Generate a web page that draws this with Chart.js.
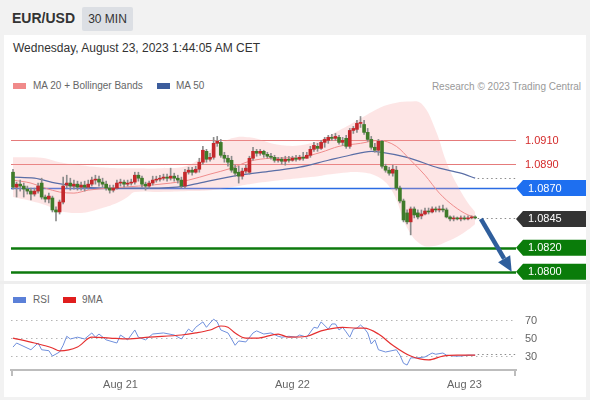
<!DOCTYPE html>
<html><head><meta charset="utf-8">
<script src="https://cdn.jsdelivr.net/npm/chart.js@4.4.0/dist/chart.umd.min.js"></script>
<style>
body{margin:0;width:590px;height:400px;background:#f2f2f2;font-family:"Liberation Sans",Arial,sans-serif;position:relative;overflow:hidden}
#sym{position:absolute;left:12px;top:10px;font-weight:bold;font-size:14px;color:#333}
#tf{position:absolute;left:82px;top:7px;width:51px;height:24px;background:#dcdfe4;border-radius:2px;font-size:12px;color:#333;line-height:24px;text-align:center}
#panel{position:absolute;left:4px;top:35px;width:582px;height:362px;background:#fff}
#sep{position:absolute;left:0;top:281px;width:590px;height:3px;background:#eeeeee}
#date{position:absolute;left:13px;top:41px;font-size:12px;color:#333}
.leg{position:absolute;font-size:10px;color:#666;white-space:nowrap}
.sw{position:absolute;width:13px;height:6px}
#copy{position:absolute;right:9px;top:81px;font-size:10px;color:#999}
canvas{position:absolute;left:0}
</style></head>
<body>
<div id="panel"></div>
<div id="sep"></div>
<div id="sym">EUR/USD</div>
<div id="tf">30 MIN</div>
<div id="date">Wednesday, August 23, 2023 1:44:05 AM CET</div>
<div class="sw" style="left:13px;top:83px;background:#f08a8a"></div>
<div class="leg" style="left:33px;top:80px">MA 20 + Bollinger Bands</div>
<div class="sw" style="left:157px;top:83px;background:#3c5d9c"></div>
<div class="leg" style="left:176px;top:80px">MA 50</div>
<div id="copy">Research © 2023 Trading Central</div>
<div class="sw" style="left:13px;top:297px;background:#5b80d8"></div>
<div class="leg" style="left:33px;top:294px">RSI</div>
<div class="sw" style="left:63px;top:297px;background:#e01e1e"></div>
<div class="leg" style="left:82px;top:294px">9MA</div>
<canvas id="main" width="590" height="222" style="top:60px"></canvas>
<canvas id="rsi" width="590" height="112" style="top:285px"></canvas>
<script>
// ---------- data ----------
const open = [1.08833,1.08708,1.08733,1.08717,1.08692,1.08675,1.08650,1.08675,1.08742,1.08625,
 1.08608,1.08617,1.08517,1.08500,1.08583,1.08725,1.08742,1.08717,1.08733,1.08708,
 1.08725,1.08708,1.08733,1.08767,1.08775,1.08750,1.08733,1.08700,1.08683,1.08700,
 1.08742,1.08750,1.08733,1.08742,1.08750,1.08808,1.08783,1.08733,1.08717,1.08742,
 1.08767,1.08775,1.08783,1.08792,1.08783,1.08800,1.08783,1.08767,1.08717,1.08833,
 1.08850,1.08833,1.08858,1.08917,1.09008,1.08942,1.08958,1.09075,1.09083,1.08975,
 1.08950,1.08933,1.08867,1.08833,1.08800,1.08842,1.08833,1.08950,1.09008,1.08992,
 1.09008,1.08983,1.08967,1.08958,1.08933,1.08942,1.08925,1.08942,1.08933,1.08950,
 1.08942,1.08958,1.08950,1.08975,1.09025,1.09050,1.09033,1.09083,1.09100,1.09125,
 1.09117,1.09125,1.09083,1.09117,1.09050,1.09183,1.09192,1.09242,1.09233,1.09167,
 1.09108,1.09042,1.09017,1.09092,1.08883,1.08850,1.08825,1.08850,1.08700,1.08592,
 1.08492,1.08417,1.08525,1.08492,1.08467,1.08483,1.08508,1.08500,1.08525,1.08517,
 1.08525,1.08517,1.08458,1.08442,1.08450,1.08442,1.08450,1.08442,1.08450,1.08458];
const close = [1.08708,1.08733,1.08717,1.08692,1.08675,1.08650,1.08675,1.08717,1.08625,1.08608,
 1.08633,1.08517,1.08500,1.08583,1.08717,1.08742,1.08717,1.08733,1.08708,1.08725,
 1.08708,1.08733,1.08767,1.08775,1.08750,1.08733,1.08700,1.08683,1.08700,1.08742,
 1.08750,1.08733,1.08742,1.08750,1.08808,1.08783,1.08733,1.08717,1.08742,1.08767,
 1.08775,1.08783,1.08792,1.08783,1.08800,1.08783,1.08767,1.08717,1.08833,1.08850,
 1.08833,1.08858,1.08917,1.09017,1.08942,1.08958,1.09075,1.09092,1.08975,1.08950,
 1.08917,1.08850,1.08825,1.08800,1.08842,1.08867,1.08950,1.09008,1.08992,1.09008,
 1.08983,1.08967,1.08958,1.08933,1.08942,1.08925,1.08942,1.08933,1.08950,1.08942,
 1.08958,1.08950,1.08975,1.09025,1.09058,1.09033,1.09083,1.09108,1.09125,1.09117,
 1.09133,1.09083,1.09100,1.09050,1.09183,1.09200,1.09242,1.09250,1.09167,1.09108,
 1.09042,1.09017,1.09092,1.08883,1.08850,1.08825,1.08858,1.08700,1.08592,1.08433,
 1.08417,1.08525,1.08475,1.08458,1.08483,1.08508,1.08500,1.08525,1.08517,1.08525,
 1.08517,1.08458,1.08442,1.08450,1.08442,1.08450,1.08442,1.08450,1.08458,1.08450];
const high = [1.08858,1.08750,1.08767,1.08742,1.08717,1.08700,1.08700,1.08742,1.08783,1.08642,
 1.08658,1.08633,1.08542,1.08600,1.08792,1.08808,1.08783,1.08767,1.08758,1.08750,
 1.08758,1.08767,1.08792,1.08808,1.08800,1.08783,1.08758,1.08725,1.08725,1.08767,
 1.08775,1.08767,1.08767,1.08775,1.08833,1.08833,1.08800,1.08750,1.08758,1.08800,
 1.08800,1.08808,1.08817,1.08817,1.08867,1.08825,1.08808,1.08792,1.08858,1.08875,
 1.08875,1.08883,1.08950,1.09050,1.09025,1.08992,1.09125,1.09133,1.09108,1.09000,
 1.08975,1.08967,1.08892,1.08883,1.08867,1.08892,1.08967,1.09042,1.09025,1.09025,
 1.09017,1.09000,1.08992,1.08975,1.08958,1.08958,1.08967,1.08967,1.08967,1.08975,
 1.08975,1.09000,1.09000,1.09050,1.09083,1.09075,1.09100,1.09125,1.09142,1.09150,
 1.09158,1.09142,1.09125,1.09142,1.09200,1.09217,1.09267,1.09300,1.09267,1.09200,
 1.09133,1.09075,1.09108,1.09100,1.08900,1.08875,1.08892,1.08883,1.08717,1.08608,
 1.08517,1.08542,1.08542,1.08517,1.08517,1.08533,1.08533,1.08542,1.08542,1.08550,
 1.08558,1.08533,1.08467,1.08467,1.08458,1.08467,1.08467,1.08467,1.08467,1.08467];
const low = [1.08692,1.08625,1.08675,1.08625,1.08650,1.08600,1.08633,1.08658,1.08608,1.08583,
 1.08575,1.08500,1.08425,1.08483,1.08567,1.08700,1.08683,1.08692,1.08683,1.08683,
 1.08675,1.08692,1.08717,1.08733,1.08717,1.08708,1.08683,1.08658,1.08667,1.08692,
 1.08717,1.08708,1.08717,1.08725,1.08733,1.08758,1.08708,1.08683,1.08700,1.08725,
 1.08750,1.08758,1.08767,1.08758,1.08767,1.08758,1.08742,1.08700,1.08700,1.08817,
 1.08808,1.08825,1.08833,1.08900,1.08917,1.08925,1.08942,1.09050,1.08958,1.08917,
 1.08883,1.08833,1.08800,1.08742,1.08775,1.08825,1.08817,1.08933,1.08967,1.08975,
 1.08958,1.08950,1.08942,1.08917,1.08917,1.08900,1.08892,1.08917,1.08925,1.08925,
 1.08933,1.08933,1.08950,1.08958,1.09008,1.09008,1.09025,1.09042,1.09075,1.09100,
 1.09100,1.09067,1.09058,1.09033,1.09033,1.09158,1.09167,1.09208,1.09150,1.09092,
 1.09025,1.09000,1.08975,1.08867,1.08833,1.08808,1.08800,1.08683,1.08575,1.08417,
 1.08400,1.08308,1.08450,1.08442,1.08442,1.08475,1.08483,1.08492,1.08500,1.08500,
 1.08500,1.08450,1.08425,1.08425,1.08433,1.08425,1.08433,1.08433,1.08442,1.08442];

// Bollinger bands (read at these bar positions)
const bbIdx   = [0,5,9,13,19,24,29,32,34,41,49,55,61,66,75,83,91,97,102,106,110,114,118,121,124,127,129];
const bbUpper = [1.08958,1.08958,1.08950,1.08917,1.08892,1.08875,1.08867,1.08867,1.08867,1.08867,1.08892,1.09017,1.09117,1.09125,1.09058,1.09075,1.09183,1.09283,1.09367,1.09408,1.09425,1.09408,1.09183,1.08917,1.08725,1.08575,1.08500];
const bbLower = [1.08625,1.08592,1.08558,1.08508,1.08492,1.08525,1.08575,1.08625,1.08667,1.08667,1.08675,1.08683,1.08708,1.08733,1.08767,1.08792,1.08825,1.08833,1.08792,1.08667,1.08367,1.08225,1.08217,1.08250,1.08292,1.08350,1.08400];
// MA 20
const ma20Idx = [0,5,9,13,17,21,27,35,44,49,55,61,66,72,80,86,91,97,102,107,111,115,119,123,127,129];
const ma20    = [1.08767,1.08742,1.08700,1.08667,1.08658,1.08683,1.08700,1.08717,1.08742,1.08767,1.08817,1.08867,1.08925,1.08950,1.08958,1.09000,1.09050,1.09075,1.09100,1.09050,1.08933,1.08808,1.08658,1.08550,1.08475,1.08458];
// MA 50
const ma50Idx = [0,6,12,20,27,38,48,52,63,72,80,88,94,100,103,110,119,125,129];
const ma50    = [1.08792,1.08783,1.08742,1.08708,1.08700,1.08700,1.08717,1.08742,1.08808,1.08842,1.08875,1.08933,1.08975,1.09008,1.09000,1.08958,1.08867,1.08825,1.08783];

// RSI and its 9-period MA
const rsiIdx = [0,1,5,7,8,10,11,13,14,15,16,18,20,22,23,24,26,29,30,32,34,35,37,39,42,45,47,49,50,51,53,54,55,56,57,58,60,61,62,63,65,67,68,70,72,74,75,77,79,80,82,84,85,86,88,89,90,91,92,93,94,95,96,97,98,99,100,101,102,104,107,108,109,110,111,113,115,117,118,120,121,123,125,127,129];
const rsi    = [41,45.5,38,45.5,38,37,31,35.5,43,53,50,52,50,56.7,52,55.5,49,45.5,54.4,49,60,52,49,55.5,56.7,54.4,50,61,57.8,63,69,63,67.8,72,69,60,56.7,50,43,47.8,46.7,56.7,59,55.5,56.7,53,52,53,52,54.4,52,63,62,69,61,66.7,66.7,60,63,57.8,52,61,62,65.5,62,56.7,44.4,49,38,35.5,38,32,23,21,29,29,30,34.4,33,34.4,32,31,31,32,32];
const rsiMaIdx = [0,6,11,13,18,22,27,32,38,47,51,55,58,60,62,65,68,74,77,82,86,92,96,98,102,106,111,116,120,124,129];
const rsiMa    = [51,45.5,40,36.7,41,52,51,50,52,54.4,56.7,60,64.4,63,56.7,51,51,55.5,52,53,59,63,62,62,55.5,43,31,26.7,31,32,32];

// axis / levels
const tickPos = [30, 78, 126];
const tickLabels = ['Aug 21', 'Aug 22', 'Aug 23'];
const levels = [1.0910, 1.0890, 1.0870, 1.0820, 1.0800];
const levelNames = ['1.0910', '1.0890', '1.0870', '1.0820', '1.0800'];
const lastPrice = 1.0845;
const lastPriceName = '1.0845';
const arrowTarget = 1.0800;
const rsiLevels = [30, 50, 70];

// ---------- styles ----------
const UP = '#c4282b', DOWN = '#3f7b2a', WICK = '#8c8c8c';
const levelStyle = [
  {kind:'text', line:'#e57b7b', w:1, text:'#d42a2a'},
  {kind:'text', line:'#e57b7b', w:1, text:'#d42a2a'},
  {kind:'tag', line:'#2b6be3', w:1.3, bg:'#1e6ff0'},
  {kind:'tag', line:'#0d7a0d', w:2.5, bg:'#0a7c0a'},
  {kind:'tag', line:'#0d7a0d', w:2.5, bg:'#0a7c0a'}
];
const XMIN = -0.56, XMAX = 140.4;
const pts = (ix, v) => ix.map((x, k) => ({x, y: v[k]}));
const N = open.length;
const bars = open.map((_, i) => i);

function drawTag(ctx, xl, xr, y, bg, label) {
  ctx.fillStyle = bg;
  ctx.beginPath();
  ctx.moveTo(xl, y);
  ctx.lineTo(xl + 7, y - 8);
  ctx.lineTo(xr, y - 8);
  ctx.lineTo(xr, y + 8);
  ctx.lineTo(xl + 7, y + 8);
  ctx.closePath();
  ctx.fill();
  ctx.fillStyle = '#fff';
  ctx.font = '11px "Liberation Sans", Arial, sans-serif';
  ctx.textBaseline = 'middle';
  ctx.textAlign = 'left';
  ctx.fillText(label, xl + 12, y + 0.5);
}

const mainDecor = {
  id: 'mainDecor',
  beforeDatasetsDraw(chart) {
    const {ctx, chartArea: a, scales: {y}} = chart;
    ctx.save();
    levels.forEach((v, k) => {
      const py = Math.round(y.getPixelForValue(v)) + (levelStyle[k].w % 2 ? 0.5 : 0);
      ctx.strokeStyle = levelStyle[k].line;
      ctx.lineWidth = levelStyle[k].w;
      ctx.beginPath(); ctx.moveTo(a.left, py); ctx.lineTo(a.right, py); ctx.stroke();
    });
    ctx.restore();
  },
  afterDatasetsDraw(chart) {
    const {ctx, chartArea: a, scales: {x, y}} = chart;
    ctx.save();
    // dotted extensions
    ctx.strokeStyle = '#8a8a8a'; ctx.lineWidth = 1; ctx.setLineDash([1.5, 3]);
    const xs = x.getPixelForValue(N - 0.3);
    [ma50[ma50.length - 1], lastPrice].forEach(v => {
      const py = Math.round(y.getPixelForValue(v)) + 0.5;
      ctx.beginPath(); ctx.moveTo(xs, py); ctx.lineTo(a.right, py); ctx.stroke();
    });
    ctx.setLineDash([]);
    // arrow
    const x0 = x.getPixelForValue(N + 0.6), y0 = y.getPixelForValue(lastPrice) + 1;
    const x1 = x.getPixelForValue(N + 9.2), y1 = y.getPixelForValue(arrowTarget);
    const ang = Math.atan2(y1 - y0, x1 - x0), hl = 15, hw = 7;
    const bx = x1 - hl * Math.cos(ang), by = y1 - hl * Math.sin(ang);
    ctx.strokeStyle = '#2f5e9c'; ctx.fillStyle = '#2f5e9c'; ctx.lineWidth = 4.5;
    ctx.beginPath(); ctx.moveTo(x0, y0); ctx.lineTo(bx, by); ctx.stroke();
    ctx.beginPath();
    ctx.moveTo(x1, y1);
    ctx.lineTo(bx + hw * Math.sin(ang), by - hw * Math.cos(ang));
    ctx.lineTo(bx - hw * Math.sin(ang), by + hw * Math.cos(ang));
    ctx.closePath(); ctx.fill();
    // labels
    const xr = chart.width - 4;
    levels.forEach((v, k) => {
      const py = y.getPixelForValue(v);
      const st = levelStyle[k];
      if (st.kind === 'tag') drawTag(ctx, a.right, xr, py, st.bg, levelNames[k]);
      else {
        ctx.fillStyle = st.text; ctx.font = '11px "Liberation Sans", Arial, sans-serif';
        ctx.textBaseline = 'middle'; ctx.textAlign = 'left';
        ctx.fillText(levelNames[k], a.right + 9, py + 0.5);
      }
    });
    drawTag(ctx, a.right, xr, y.getPixelForValue(lastPrice) + 1, '#333333', lastPriceName);
    ctx.restore();
  }
};

new Chart(document.getElementById('main'), {
  type: 'bar',
  data: {
    datasets: [
      {type:'line', data: pts(bbIdx, bbUpper), borderWidth:0, pointRadius:0, fill:'+1',
       backgroundColor:'rgba(248,160,160,0.28)', tension:0.4, order:20},
      {type:'line', data: pts(bbIdx, bbLower), borderWidth:0, pointRadius:0, fill:false, tension:0.4, order:21},
      {type:'line', data: pts(ma50Idx, ma50), borderColor:'#5a6ea6', borderWidth:1.2, pointRadius:0,
       cubicInterpolationMode:'monotone', fill:false, order:8},
      {type:'line', data: pts(ma20Idx, ma20), borderColor:'#ef8c8c', borderWidth:1, pointRadius:0,
       cubicInterpolationMode:'monotone', fill:false, order:7},
      {data: bars.map(i => ({x:i, y:[low[i], high[i]]})), backgroundColor: WICK, barThickness:1, grouped:false, order:2},
      {data: bars.map(i => ({x:i, y:[open[i], close[i]]})), backgroundColor: bars.map(i => close[i] > open[i] ? UP : DOWN),
       barThickness:3, grouped:false, order:1}
    ]
  },
  options: {
    responsive:false, animation:false, devicePixelRatio:1,
    layout:{padding:{left:11, right:74, top:35, bottom:2}},
    plugins:{legend:{display:false}, tooltip:{enabled:false}},
    scales:{
      x:{type:'linear', min:XMIN, max:XMAX, offset:false, display:false},
      y:{type:'linear', min:1.0793, max:1.0948, beginAtZero:false, display:false}
    }
  },
  plugins:[mainDecor]
});

const rsiDecor = {
  id:'rsiDecor',
  afterDatasetsDraw(chart) {
    const {ctx, chartArea:a, scales:{x, y}} = chart;
    ctx.save();
    ctx.strokeStyle = '#8a8a8a'; ctx.lineWidth = 1; ctx.setLineDash([1.5, 3]);
    const py = Math.round(y.getPixelForValue(rsi[rsi.length - 1] + 1)) + 0.5;
    ctx.beginPath(); ctx.moveTo(x.getPixelForValue(N - 0.3), py); ctx.lineTo(a.right, py); ctx.stroke();
    ctx.setLineDash([]);
    ctx.strokeStyle = '#bdbdbd'; ctx.lineWidth = 2;
    [a.left + 1, a.right - 1].forEach(px => {
      ctx.beginPath(); ctx.moveTo(px, a.bottom); ctx.lineTo(px, a.bottom + 6); ctx.stroke();
    });
    ctx.restore();
  }
};

new Chart(document.getElementById('rsi'), {
  type:'line',
  data:{
    datasets:[
      {data: pts(rsiMaIdx, rsiMa), borderColor:'#e53030', borderWidth:1.2, pointRadius:0, cubicInterpolationMode:'monotone', order:1},
      {data: pts(rsiIdx, rsi), borderColor:'#6f8fdc', borderWidth:1, pointRadius:0, tension:0, order:2}
    ]
  },
  options:{
    responsive:false, animation:false, devicePixelRatio:1,
    layout:{padding:{left:11, right:0, top:18, bottom:0}},
    plugins:{legend:{display:false}, tooltip:{enabled:false}},
    scales:{
      x:{type:'linear', min:XMIN, max:XMAX, offset:false, position:'bottom',
         grid:{display:false, drawTicks:false},
         border:{display:true, color:'#bdbdbd', width:2},
         afterBuildTicks: s => { s.ticks = tickPos.map(v => ({value:v})); },
         afterFit: s => { s.height = 27; },
         ticks:{autoSkip:false, maxRotation:0, padding:8, color:'#666', font:{family:'"Liberation Sans", Arial, sans-serif', size:11},
                callback: v => tickLabels[tickPos.indexOf(v)] ?? ''}},
      y:{type:'linear', min:15.5, max:90, position:'right',
         grid:{color:'#b5b5b5', drawTicks:false, lineWidth:1},
         border:{display:false, dash:[1.5, 3.5]},
         afterBuildTicks: s => { s.ticks = rsiLevels.map(v => ({value:v})); },
         afterFit: s => { s.width = 74; },
         ticks:{padding:9, color:'#666', font:{family:'"Liberation Sans", Arial, sans-serif', size:11}}}
    }
  },
  plugins:[rsiDecor]
});
</script>
</body></html>
